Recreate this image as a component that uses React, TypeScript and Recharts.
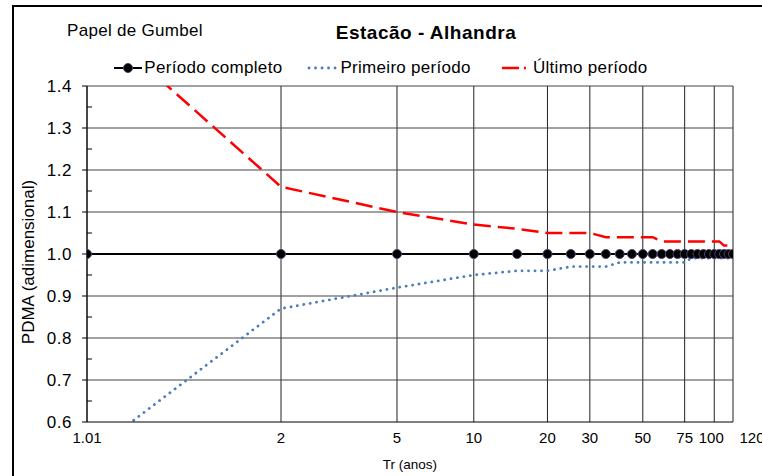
import React from "react";
import { LineChart, Line, XAxis, YAxis, CartesianGrid, ReferenceLine, Legend } from "recharts";

const FONT = '"Liberation Sans", Arial, Helvetica, sans-serif';

// return periods Tr (anos) of the plotted points
const periods = [1.01, 2, 5, 10, 15, 20, 25, 30, 35, 40, 45, 50, 55, 60, 65, 70, 75, 80, 85, 90, 95, 100, 105, 110, 115, 120];

// PDMA, adimensional
const periodoCompleto = [1.0, 1.0, 1.0, 1.0, 1.0, 1.0, 1.0, 1.0, 1.0, 1.0, 1.0, 1.0, 1.0, 1.0, 1.0, 1.0, 1.0, 1.0, 1.0, 1.0, 1.0, 1.0, 1.0, 1.0, 1.0, 1.0];
const primeiroPeriodo = [0.52, 0.87, 0.92, 0.95, 0.96, 0.96, 0.97, 0.97, 0.97, 0.98, 0.98, 0.98, 0.98, 0.98, 0.98, 0.98, 0.98, 0.99, 0.99, 0.99, 0.99, 0.99, 0.99, 0.99, 0.99, 0.99];
const ultimoPeriodo = [1.57, 1.16, 1.1, 1.07, 1.06, 1.05, 1.05, 1.05, 1.04, 1.04, 1.04, 1.04, 1.04, 1.03, 1.03, 1.03, 1.03, 1.03, 1.03, 1.03, 1.03, 1.03, 1.03, 1.02, 1.02, 1.02];

// axis ticks
const tickPeriods = [1.01, 2, 5, 10, 20, 30, 50, 75, 100, 120];
const tickLabels = ["1.01", "2", "5", "10", "20", "30", "50", "75", "100", "120"];
const yMajor = [0.6, 0.7, 0.8, 0.9, 1.0, 1.1, 1.2, 1.3, 1.4];
const yMinor = [0.65, 0.75, 0.85, 0.95, 1.05, 1.15, 1.25, 1.35];

// Gumbel paper: x is the reduced variate y = -ln(-ln(1 - 1/T))
const gumbel = (t: number) => -Math.log(-Math.log(1 - 1 / t));

const data = periods.map((t, i) => ({
  g: gumbel(t),
  completo: periodoCompleto[i],
  primeiro: primeiroPeriodo[i],
  ultimo: ultimoPeriodo[i],
}));

const yTicks = [...yMajor, ...yMinor].sort((a, b) => a - b);

// the last labels are crowded, so nudge them apart
const labelNudge: Record<string, number> = { "100": -3, "120": 19 };

function XTick({ x, y, index }: any) {
  const label = tickLabels[index];
  return (
    <text x={x + (labelNudge[label] ?? 0)} y={y} dy="0.71em" textAnchor="middle" fontSize={15} fill="#000" fontFamily={FONT}>
      {label}
    </text>
  );
}

// major ticks point out with a label, minor ticks point into the plot
function YTick({ x, y, payload }: any) {
  const v = payload.value as number;
  const major = yMajor.some((m) => Math.abs(m - v) < 1e-6);
  if (!major) return <line x1={x} x2={x + 5} y1={y} y2={y} stroke="#000" />;
  return (
    <g>
      <line x1={x - 5} x2={x} y1={y} y2={y} stroke="#000" />
      <text x={x - 15} y={y} dy="0.355em" textAnchor="end" fontSize={17} letterSpacing={0.5} fill="#000" fontFamily={FONT}>
        {v.toFixed(1)}
      </text>
    </g>
  );
}

const legendOrder = ["completo", "primeiro", "ultimo"];

function LegendIcon({ k }: { k: string }) {
  if (k === "completo") {
    return (
      <svg width={28} height={12}>
        <line x1={0} x2={28} y1={6} y2={6} stroke="#000" strokeWidth={2} />
        <circle cx={14} cy={6} r={4.5} fill="#000" stroke="#4b4270" />
      </svg>
    );
  }
  if (k === "primeiro") {
    return (
      <svg width={31} height={12}>
        <line x1={2} x2={31} y1={6} y2={6} stroke="#4a7ebb" strokeWidth={2.8} strokeDasharray="0.1 6.4" strokeLinecap="round" />
      </svg>
    );
  }
  return (
    <svg width={27} height={12}>
      <line x1={0} x2={17} y1={6} y2={6} stroke="#ff0000" strokeWidth={2.5} />
      <line x1={22} x2={24} y1={6} y2={6} stroke="#ff0000" strokeWidth={2.5} />
    </svg>
  );
}

function LegendContent({ payload }: any) {
  const items = legendOrder
    .map((k) => (payload || []).find((p: any) => p.dataKey === k))
    .filter(Boolean);
  return (
    <div style={{ display: "flex", justifyContent: "center", alignItems: "center", height: 20, lineHeight: "20px", fontFamily: FONT, fontSize: 17, letterSpacing: 0.3, color: "#000" }}>
      {items.map((p: any, i: number) => (
        <div key={p.dataKey} style={{ display: "flex", alignItems: "center", marginLeft: i === 0 ? 0 : i === 1 ? 25 : 31 }}>
          <LegendIcon k={p.dataKey} />
          <span style={{ marginLeft: p.dataKey === "ultimo" ? 4 : 2 }}>{p.value}</span>
        </div>
      ))}
    </div>
  );
}

export default function App() {
  return (
    <div style={{ position: "absolute", left: 0, top: 0, width: 762, height: 476, overflow: "hidden", background: "#fff" }}>
      {/* chart frame */}
      <div style={{ position: "absolute", left: 12, top: 5, width: 800, height: 520, borderLeft: "2px solid #000", borderTop: "2px solid #000" }} />

      <div style={{ position: "absolute", left: 0, top: 0 }}>
        <LineChart width={762} height={476} data={data} margin={{ top: 86, right: 29, bottom: 24, left: 47 }}>
          <CartesianGrid horizontal={false} stroke="#222" />
          {yMajor.slice(1).map((v) => (
            <ReferenceLine key={v} y={v} stroke="#444" />
          ))}
          <XAxis
            type="number"
            dataKey="g"
            domain={[gumbel(periods[0]), gumbel(periods[periods.length - 1])]}
            ticks={tickPeriods.map(gumbel)}
            interval={0}
            allowDataOverflow
            tickLine={false}
            tickSize={0}
            tickMargin={10}
            tick={<XTick />}
            axisLine={{ stroke: "#000" }}
            height={30}
          />
          <YAxis
            type="number"
            domain={[0.6, 1.4]}
            ticks={yTicks}
            interval={0}
            allowDataOverflow
            tickLine={false}
            tickSize={0}
            tickMargin={0}
            tick={<YTick />}
            axisLine={{ stroke: "#000" }}
            width={40}
          />
          <Legend layout="horizontal" verticalAlign="middle" align="center" wrapperStyle={{ top: 58, left: 0, width: 762 }} content={<LegendContent />} />
          <Line
            type="linear"
            dataKey="primeiro"
            name="Primeiro período"
            stroke="#4a7ebb"
            strokeWidth={2.8}
            strokeDasharray="0.1 6.4"
            strokeLinecap="round"
            dot={false}
            activeDot={false}
            isAnimationActive={false}
          />
          <Line
            type="linear"
            dataKey="ultimo"
            name="Último período"
            stroke="#ff0000"
            strokeWidth={2.5}
            strokeDasharray="17 7"
            dot={false}
            activeDot={false}
            isAnimationActive={false}
          />
          <Line
            type="linear"
            dataKey="completo"
            name="Período completo"
            stroke="#000"
            strokeWidth={2}
            dot={{ r: 4.5, fill: "#000", stroke: "#4b4270", strokeWidth: 1 }}
            activeDot={false}
            isAnimationActive={false}
          />
        </LineChart>
      </div>

      <svg width={762} height={476} style={{ position: "absolute", left: 0, top: 0, pointerEvents: "none" }} fontFamily={FONT}>
        <text x={67} y={36} fontSize={17} letterSpacing={0.3} fill="#000">
          Papel de Gumbel
        </text>
        <text x={426} y={38.5} fontSize={19} fontWeight="bold" letterSpacing={0.5} textAnchor="middle" fill="#000">
          Estacão - Alhandra
        </text>
        <text x={410} y={468.5} fontSize={13.5} textAnchor="middle" fill="#000">
          Tr (anos)
        </text>
        <text transform="translate(34 262) rotate(-90)" fontSize={17} textAnchor="middle" fill="#000">
          PDMA (adimensional)
        </text>
      </svg>
    </div>
  );
}
